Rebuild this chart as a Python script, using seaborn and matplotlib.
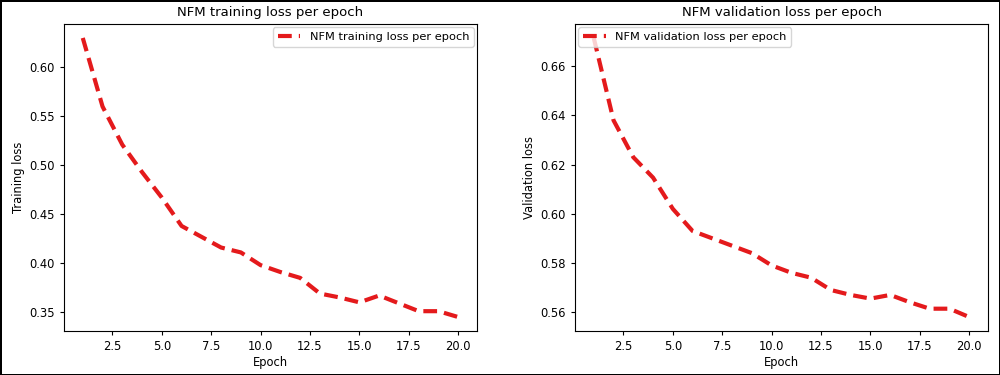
import matplotlib
matplotlib.use("Agg")
import matplotlib.pyplot as plt
import seaborn as sns

# losses
epochs = list(range(1, 21))
train_loss = [0.630, 0.560, 0.521, 0.493, 0.467, 0.438, 0.427, 0.416, 0.411, 0.398,
              0.391, 0.385, 0.369, 0.365, 0.360, 0.367, 0.359, 0.351, 0.351, 0.345]
val_loss = [0.6715, 0.638, 0.623, 0.6147, 0.602, 0.593, 0.590, 0.587, 0.584, 0.579,
            0.576, 0.574, 0.569, 0.567, 0.5655, 0.567, 0.564, 0.5614, 0.5614, 0.558]

fig = plt.figure(figsize=(10, 3.75), dpi=100)
fig.patch.set_edgecolor("black")
fig.patch.set_linewidth(2)

ax1 = fig.add_axes([0.064, 0.1173, 0.413, 0.8187])
ax2 = fig.add_axes([0.575, 0.1173, 0.413, 0.8187])


def draw_panel(ax, y, name, ylabel, loc):
    sns.lineplot(x=epochs, y=y, ax=ax, color="#e41a1c", linestyle=(0, (3.3, 1.7)),
                 linewidth=3, label=name)
    ax.set_title(name, fontsize=9.5)
    ax.set_xlabel("Epoch", fontsize=8.3, labelpad=2)
    ax.set_ylabel(ylabel, fontsize=8.3, labelpad=3)
    ax.tick_params(labelsize=8.3, length=3)
    ax.legend(loc=loc, fontsize=8.2, handlelength=2, borderaxespad=0.3)


draw_panel(ax1, train_loss, "NFM training loss per epoch", "Training loss", "upper right")
draw_panel(ax2, val_loss, "NFM validation loss per epoch", "Validation loss", "upper left")

fig.savefig("out.png", dpi=100, edgecolor=fig.get_edgecolor())
